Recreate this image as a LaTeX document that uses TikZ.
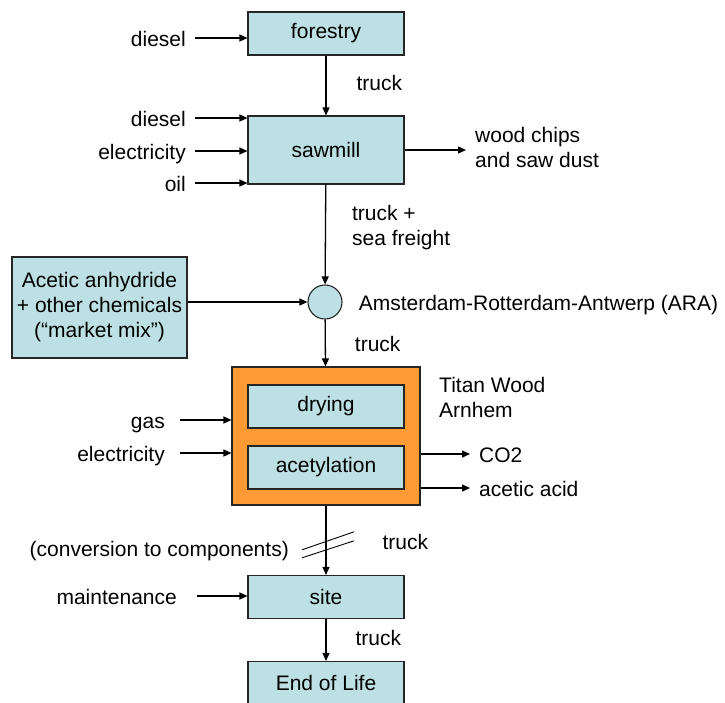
\documentclass[tikz,border=0pt]{standalone}
\usepackage{fontspec}
\setmainfont{Liberation Sans}
\usetikzlibrary{positioning,arrows.meta,calc}
\definecolor{woodteal}{HTML}{BCE0E3}
\definecolor{woodorange}{HTML}{FF9A35}
\definecolor{woodline}{HTML}{262626}

\begin{document}
\begin{tikzpicture}[x=1pt, y=-1pt, font=\fontsize{21}{25}\selectfont,
  box/.style={draw=woodline, line width=1.1pt, fill=woodteal, minimum width=156pt, minimum height=43pt, inner sep=0pt, align=center},
  lbl/.style={inner xsep=9pt, inner ysep=0pt, text height=16pt, text depth=0pt},
  blk/.style={inner xsep=9pt, inner ysep=0pt, align=left},
  arr/.style={-{Triangle[length=8pt,width=7pt]}, line width=1.3pt}]
\useasboundingbox (0,0) rectangle (725,702);
% main chain
\node[box] (forestry) at (326,33.5) {forestry};
\node[box, minimum height=68pt] (sawmill) at (326,150) {sawmill};
\node[circle, draw=woodline, line width=1.1pt, fill=woodteal, minimum size=34pt, inner sep=0pt] (ara) at (325,302) {};
\node[box, minimum width=175pt, minimum height=101pt] (chem) at (99.5,307.5) {Acetic anhydride\\+ other chemicals\\(“market mix”)};
\node[draw=woodline, line width=1.1pt, fill=woodorange, minimum width=188pt, minimum height=138pt] (titan) at (326,436) {};
\node[box] (drying) at (326,406.5) {drying};
\node[box] (acetyl) at (326,467.5) {acetylation};
\node[box] (site) at (326,597) {site};
\node[box] (eol) at (326,683) {End of Life};
% inputs
\node[lbl, anchor=east] (dieselA) at (195,38) {diesel};
\node[lbl, anchor=east] (dieselB) at (195,118) {diesel};
\node[lbl, anchor=east] (elecA) at (195,151) {electricity};
\node[lbl, anchor=east] (oilA) at (195,183) {oil};
\node[lbl, anchor=east, inner xsep=15pt] (gasA) at (180,420) {gas};
\node[lbl, anchor=east, inner xsep=15pt] (elecB) at (180,453) {electricity};
\node[lbl, anchor=east, inner xsep=20pt] (maint) at (197,596) {maintenance};
\draw[arr] (dieselA) -- (dieselA -| forestry.west);
\draw[arr] (dieselB) -- (dieselB -| sawmill.west);
\draw[arr] (elecA) -- (elecA -| sawmill.west);
\draw[arr] (oilA) -- (oilA -| sawmill.west);
\draw[arr] (gasA) -- (gasA -| titan.west);
\draw[arr] (elecB) -- (elecB -| titan.west);
\draw[arr] (maint) -- (maint -| site.west);
% outputs
\node[blk, anchor=west] (chips) at (466,147) {wood chips\\and saw dust};
\node[lbl, anchor=west] (co2) at (470,454) {CO2};
\node[lbl, anchor=west] (acid) at (470,488) {acetic acid};
\draw[arr] (sawmill.east) -- (sawmill.east -| chips.west);
\draw[arr] (titan.east |- co2) -- (co2);
\draw[arr] (titan.east |- acid) -- (acid);
% transport
\draw[arr] (forestry) -- node[lbl, anchor=west, xshift=21pt, yshift=3pt] (truckA) {truck} (sawmill);
\draw[arr] (sawmill) -- node[blk, anchor=west, xshift=17pt, yshift=7pt] (truckB) {truck +\\sea freight} (ara);
\draw[arr] (chem.east |- ara) -- (ara);
\node[lbl, right=7pt of ara] (araname) {Amsterdam-Rotterdam-Antwerp (ARA)};
\draw[arr] (ara) -- node[lbl, anchor=west, xshift=20pt] (truckC) {truck} (titan);
\node[blk, anchor=west] (titanname) at (430,397.5) {Titan Wood\\Arnhem};
\draw[arr] (titan) -- coordinate[pos=0.58] (brk) node[lbl, anchor=west, xshift=47pt, yshift=-1pt] (truckD) {truck} (site);
\draw[line width=0.9pt] ($(brk)+(-24,4)$) -- ($(brk)+(28,-14)$);
\draw[line width=0.9pt] ($(brk)+(-24,12)$) -- ($(brk)+(28,-5)$);
\node[lbl, anchor=east] (conv) at (298,548) {(conversion to components)};
\draw[arr] (site) -- node[lbl, anchor=west, xshift=20pt, yshift=3pt] (truckE) {truck} (eol);
\end{tikzpicture}
\end{document}
